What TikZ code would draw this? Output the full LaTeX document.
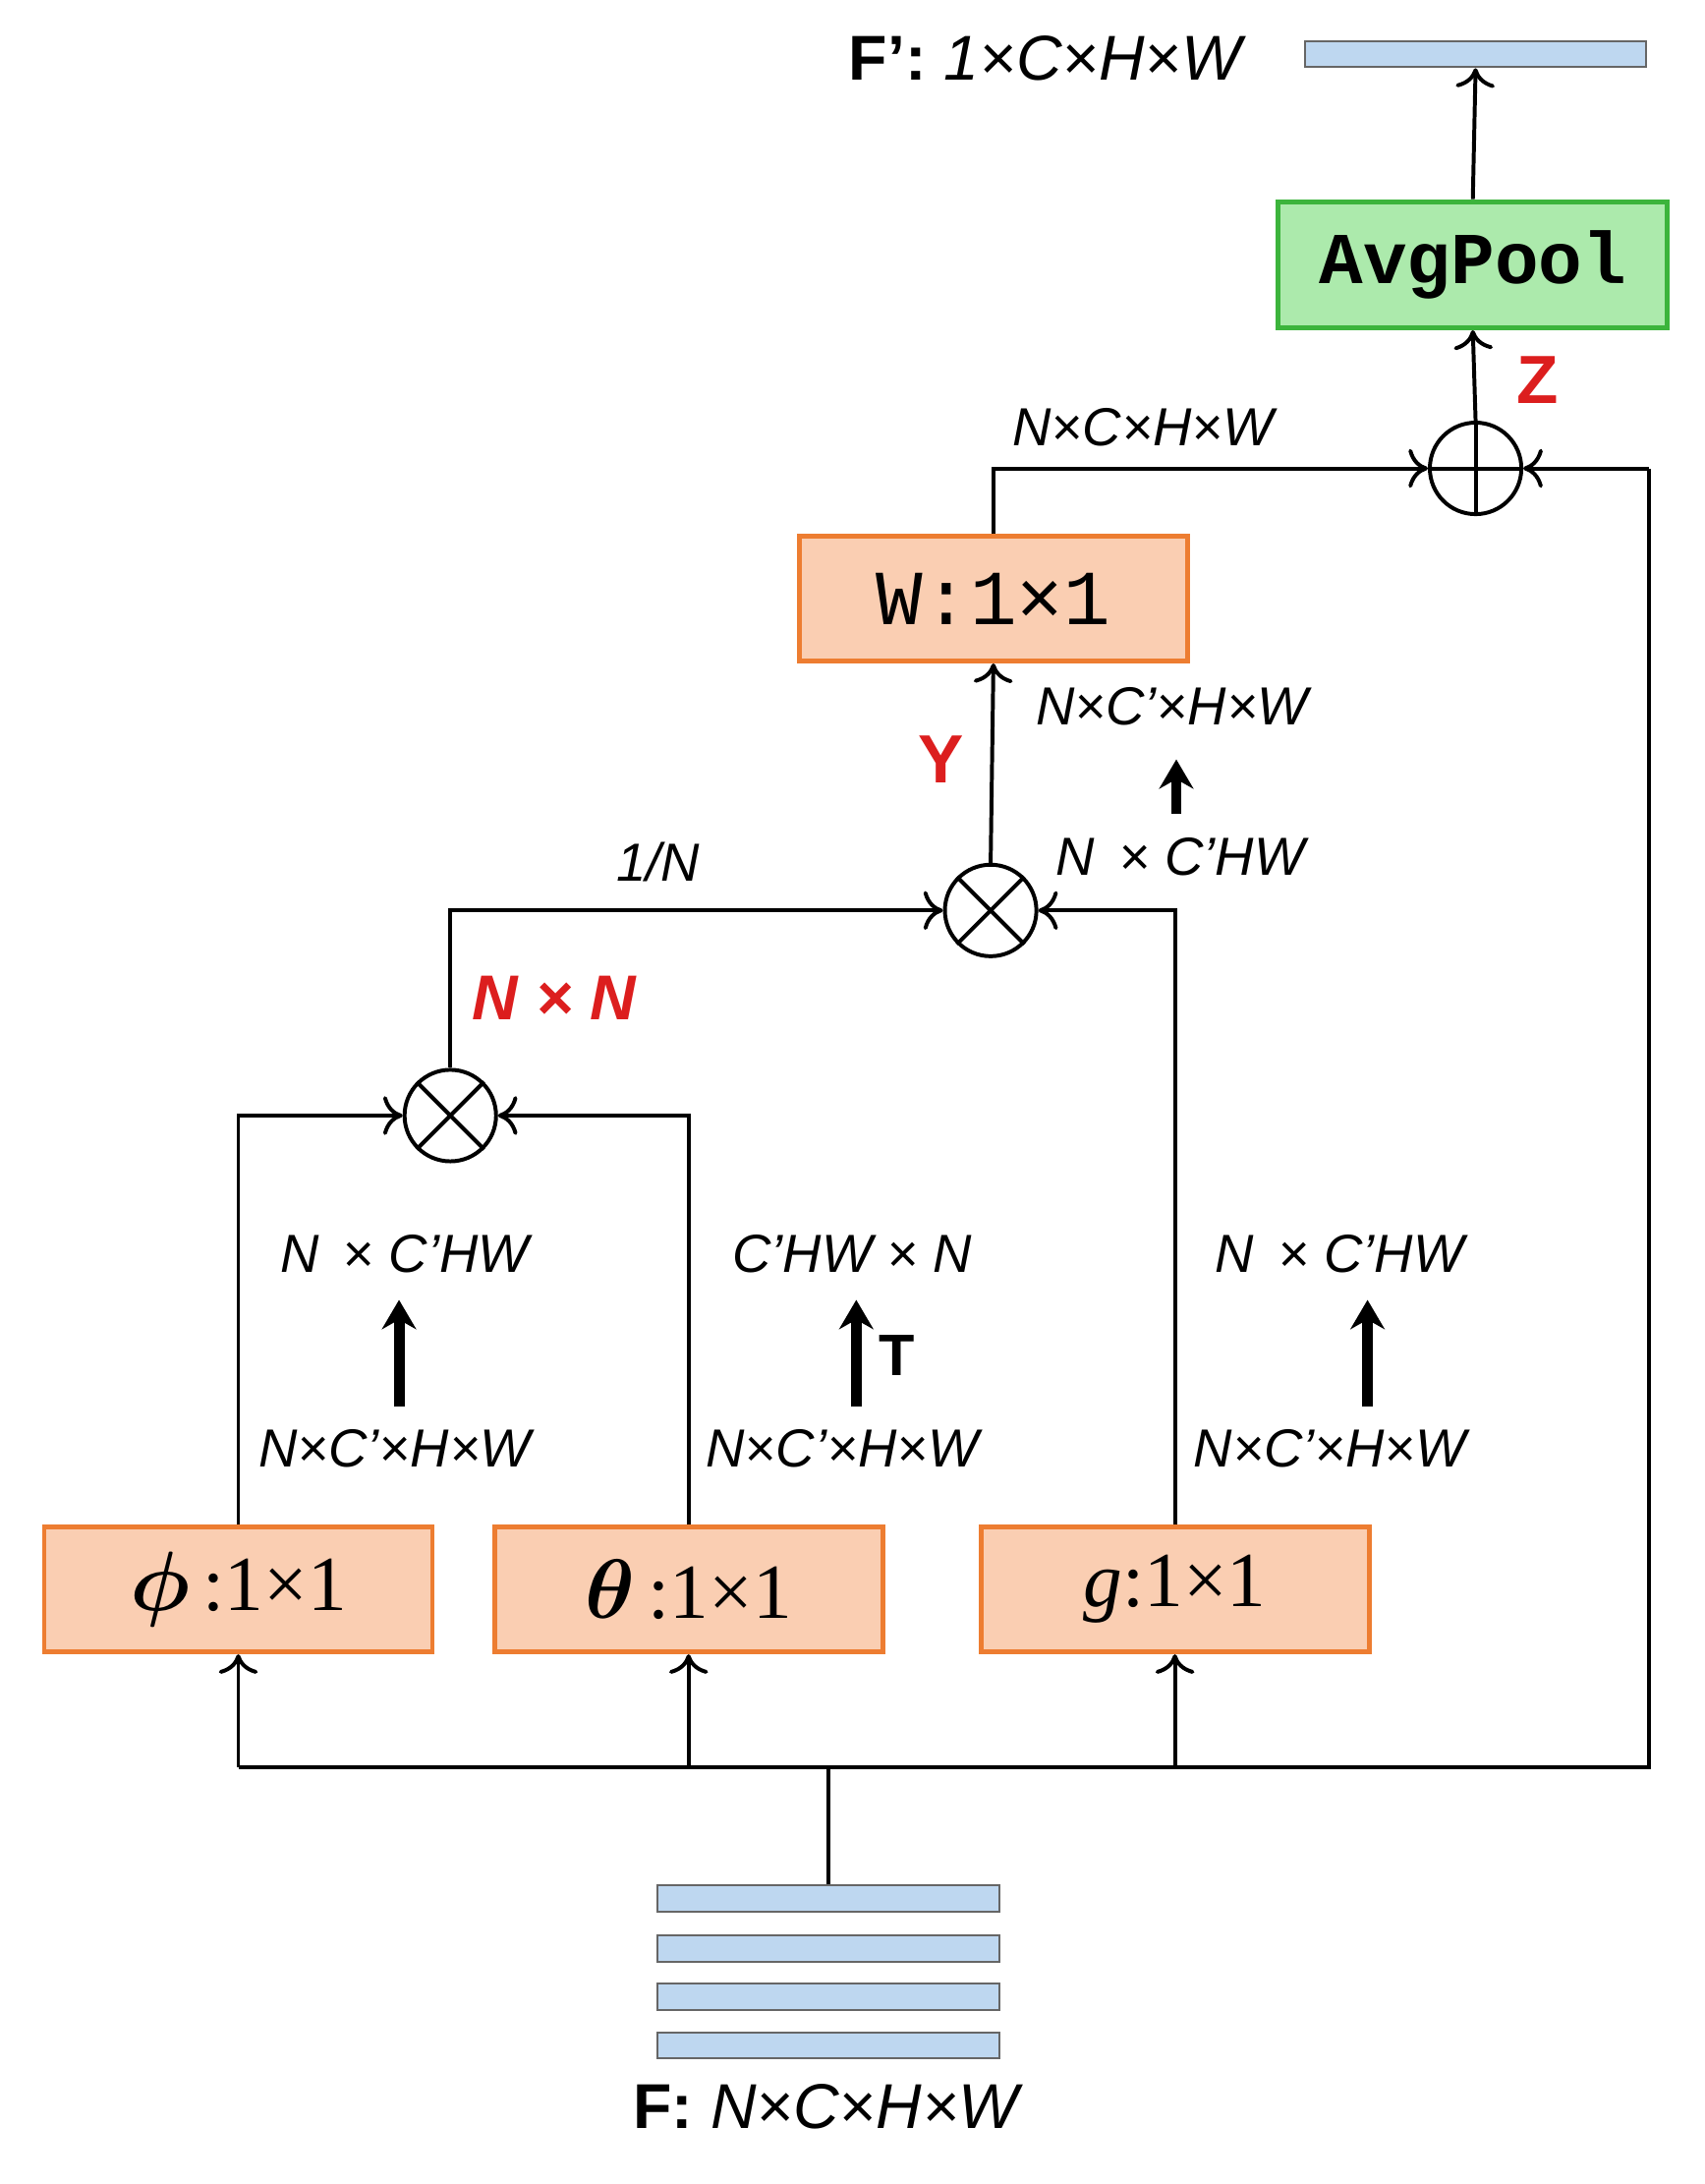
\documentclass[tikz,border=0pt]{standalone}
\usepackage{amsmath}
\usepackage{fontspec}
\setmainfont{Liberation Sans}
\newfontfamily\boxfont{Liberation Serif}
\newfontfamily\monofont{Liberation Mono}
\usepackage{tikz}
\usetikzlibrary{arrows.meta}
\definecolor{boxorange}{RGB}{250,206,178}
\definecolor{lineorange}{RGB}{237,125,49}
\definecolor{poolgreen}{RGB}{172,234,172}
\definecolor{linegreen}{RGB}{60,180,60}
\definecolor{barblue}{RGB}{190,215,240}
\definecolor{labred}{RGB}{220,30,30}
\tikzstyle{conv} = [rectangle, draw=lineorange, line width=1pt, fill=boxorange, minimum width=2.8cm, minimum height=0.9cm, font=\boxfont\fontsize{16}{16}\selectfont]
\tikzstyle{pool} = [rectangle, draw=linegreen, line width=1pt, fill=poolgreen, minimum width=2.81cm, minimum height=0.91cm, font=\monofont\bfseries\fontsize{15}{15}\selectfont]
\tikzstyle{bar} = [rectangle, draw=black!60, fill=barblue, minimum width=2.47cm, minimum height=0.19cm, inner sep=0pt]
\tikzstyle{op} = [circle, draw, thick, minimum size=0.66cm, inner sep=0pt]
\tikzstyle{dim} = [font=\itshape\fontsize{11}{11}\selectfont]
\tikzstyle{redlab} = [font=\bfseries\itshape\fontsize{13}{13}\selectfont, text=labred]
\tikzstyle{arrow} = [thick,-{To[length=4pt,width=8pt]}]
\tikzstyle{fat} = [line width=2.2pt,-{Stealth[length=6pt,width=7pt]}]
\begin{document}
\begin{tikzpicture}[x=0.01cm,y=-0.01cm]
            \useasboundingbox (0,0) rectangle (1230,1576);
            % input and output features
            \node [bar] at (598,1370) (f1) {};
            \node [bar] at (598,1406) {};
            \node [bar] at (598,1441) {};
            \node [bar] at (598,1476) {};
            \node at (598,1520) (flab) {\fontsize{13}{13}\selectfont\textbf{F:} \textit{N×C×H×W}};
            \node [bar, minimum width=2.46cm] at (1065,39) (fout) {};
            \node [anchor=east] at (912,42) (foutlab) {\fontsize{13}{13}\selectfont\textbf{F':} \textit{1×C×H×W}};
            % blocks
            \node [conv] at (172,1147) (phi) {$\boldsymbol{\phi}$\,:1×1};
            \node [conv] at (497,1147) (theta) {$\boldsymbol{\theta}$\,:1×1};
            \node [conv] at (848,1147) (g) {\textit{g}:1×1};
            \node [conv, font=\monofont\fontsize{16}{16}\selectfont] at (717,432) (w) {W:1×1};
            \node [pool] at (1063,191) (avg) {AvgPool};
            % operators
            \node [op] at (325,805) (m1) {};
            \node [op] at (715,657) (m2) {};
            \node [op] at (1065,338) (sum) {};
            \draw [thick] (m1.north east) -- (m1.south west) (m1.north west) -- (m1.south east);
            \draw [thick] (m2.north east) -- (m2.south west) (m2.north west) -- (m2.south east);
            \draw [thick] (sum.north) -- (sum.south) (sum.west) -- (sum.east);
            % bus
            \coordinate (stem) at (598,1275);
            \coordinate (right) at (1190,1275);
            \draw [thick] (f1.north) -- (stem);
            \draw [thick] (172,1275) -- (right) -- (1190,338);
            \draw [arrow] (172,1275) -- (phi.south);
            \draw [arrow] (497,1275) -- (theta.south);
            \draw [arrow] (848,1275) -- (g.south);
            \draw [arrow] (1190,338) -- (sum.east);
            % connections
            \draw [arrow] (phi.north) |- (m1.west);
            \draw [arrow] (theta.north) |- (m1.east);
            \draw [arrow] (m1.north) |- (m2.west);
            \draw [arrow] (g.north) |- (m2.east);
            \draw [arrow] (m2.north) -- (w.south);
            \draw [arrow] (w.north) |- (sum.west);
            \draw [arrow] (sum.north) -- (avg.south);
            \draw [arrow] (avg.north) -- (fout.south);
            % shape labels
            \node [dim] at (292,905) (p1) {N \,× C'HW};
            \node [dim] at (285,1045) (p2) {N×C'×H×W};
            \draw [fat] (288,1015) -- (288,938);
            \node [dim] at (615,905) (t1) {C'HW × N};
            \node [dim] at (608,1045) (t2) {N×C'×H×W};
            \draw [fat] (618,1015) -- (618,938);
            \node [font=\bfseries\fontsize{12}{12}\selectfont] at (647,978) (tlab) {T};
            \node [dim] at (967,905) (g1) {N \,× C'HW};
            \node [dim] at (960,1045) (g2) {N×C'×H×W};
            \draw [fat] (987,1015) -- (987,938);
            \node [dim] at (846,510) (y1) {N×C'×H×W};
            \node [dim] at (852,618) (y2) {N \,× C'HW};
            \draw [fat] (849,587) -- (849,548);
            \node [dim] at (475,622) (inv) {1/N};
            \node [dim] at (825,308) (z1) {N×C×H×W};
            \node [redlab] at (400,720) (nn) {N × N};
            \node [redlab, font=\bfseries\fontsize{14}{14}\selectfont] at (679,548) (ylab) {Y};
            \node [redlab, font=\bfseries\fontsize{14}{14}\selectfont] at (1110,274) (zlab) {Z};
\end{tikzpicture}
\end{document}
